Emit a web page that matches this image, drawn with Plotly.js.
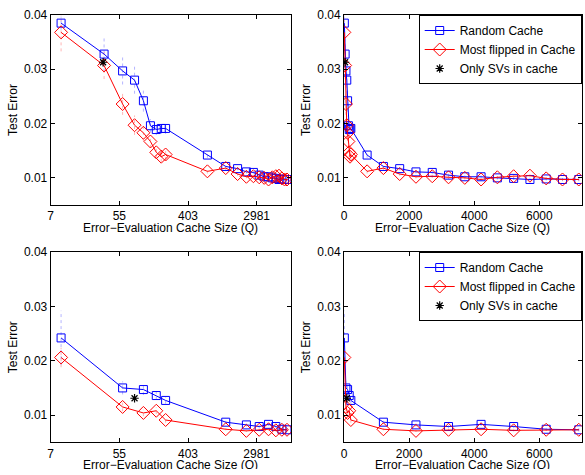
<!DOCTYPE html>
<html>
<head>
<meta charset="utf-8">
<script src="https://cdn.plot.ly/plotly-3.0.1.min.js"></script>
<style>
  html, body { margin: 0; padding: 0; background: #fff; }
  .panel { width: 585px; overflow: hidden; position: relative; }
  #top { height: 235px; }
  #bottom { height: 234px; }
</style>
</head>
<body>
<div id="top" class="panel"></div>
<div id="bottom" class="panel"></div>
<script>
// Cache sizes Q and test errors, first experiment (top row)
const qTop = [10, 35, 60, 85, 110, 135, 160, 185, 210, 710, 1210, 1710, 2210, 2710, 3210, 3710, 4210, 4710, 5210, 5710, 6210, 6710, 7210];
const randomTop = [0.0385, 0.0328, 0.0297, 0.0280, 0.0242, 0.0196, 0.0189, 0.0191, 0.0191, 0.0142, 0.0121, 0.0117, 0.0111, 0.0110, 0.0105, 0.0102, 0.0102, 0.0100, 0.0099, 0.0097, 0.0098, 0.0097, 0.0097];
const flippedTop = [0.0368, 0.0307, 0.0236, 0.0197, 0.0183, 0.0167, 0.0147, 0.0139, 0.0143, 0.0112, 0.0118, 0.0107, 0.0102, 0.0103, 0.0101, 0.0100, 0.0097, 0.0101, 0.0103, 0.0104, 0.0099, 0.0097, 0.0097];
const randomTopErr = [0.0012, 0.0032, 0.0025, 0.0025, 0.0020, 0.0012, 0.0010, 0.0010, 0.0010, 0.0005, 0.0004, 0.0003, 0.0003, 0.0003, 0.0003, 0.0003, 0.0003, 0.0003, 0.0003, 0.0003, 0.0003, 0.0003, 0.0003];
const flippedTopErr = [0.0035, 0.0025, 0.0020, 0.0018, 0.0015, 0.0012, 0.0010, 0.0010, 0.0010, 0.0004, 0.0004, 0.0003, 0.0003, 0.0003, 0.0003, 0.0003, 0.0003, 0.0003, 0.0003, 0.0003, 0.0003, 0.0003, 0.0003];
const svQTop = [34];
const svErrTop = [0.0313];

// Second experiment (bottom row)
const qBottom = [10, 60, 110, 160, 210, 1210, 2210, 3210, 4210, 5210, 6210, 7210];
const randomBottom = [0.0242, 0.0150, 0.0147, 0.0136, 0.0127, 0.0087, 0.0082, 0.0079, 0.0083, 0.0079, 0.0074, 0.0073];
const flippedBottom = [0.0206, 0.0115, 0.0104, 0.0108, 0.0091, 0.0074, 0.0071, 0.0073, 0.0074, 0.0072, 0.0073, 0.0073];
const randomBottomErr = [0.0050, 0.0012, 0.0010, 0.0008, 0.0006, 0.0003, 0.0003, 0.0003, 0.0003, 0.0003, 0.0003, 0.0003];
const flippedBottomErr = [0.0018, 0.0008, 0.0006, 0.0006, 0.0005, 0.0002, 0.0002, 0.0002, 0.0002, 0.0002, 0.0002, 0.0002];
const svQBottom = [85];
const svErrBottom = [0.0131];

// Axis ticks and labels
const logTickVals = [Math.exp(2), Math.exp(4), Math.exp(6), Math.exp(8)];
const logTickText = ['7', '55', '403', '2981'];
const linTickVals = [0, 2000, 4000, 6000];
const yTickVals = [0.01, 0.02, 0.03, 0.04];
const yTickText = ['0.01', '0.02', '0.03', '0.04'];
const seriesNames = ['Random Cache', 'Most flipped in Cache', 'Only SVs in cache'];
const xTitle = 'Error\u2212Evaluation Cache Size (Q)';
const yTitle = 'Test Error';

const FONT = 'Liberation Sans, Arial, Helvetica, sans-serif';
const BLUE = '#0000ff';
const RED = '#ff0000';
const X_LEFT = [50.7 / 585, 291 / 585];
const X_RIGHT = [344 / 585, 581.7 / 585];

// dotted vertical spread segments around each point
function spread(q, y, e) {
  const xs = [], ys = [];
  for (let i = 0; i < q.length; i++) {
    xs.push(q[i], q[i], null);
    ys.push(y[i] - e[i], y[i] + e[i], null);
  }
  return { xs, ys };
}

function seriesTraces(q, blue, red, bErr, rErr, svQ, svY, xa, ya, legend) {
  const bs = spread(q, blue, bErr);
  const rs = spread(q, red, rErr);
  return [
    { x: bs.xs, y: bs.ys, xaxis: xa, yaxis: ya, mode: 'lines', showlegend: false, hoverinfo: 'skip',
      line: { color: 'rgba(120,120,255,0.55)', width: 1, dash: 'dot' } },
    { x: rs.xs, y: rs.ys, xaxis: xa, yaxis: ya, mode: 'lines', showlegend: false, hoverinfo: 'skip',
      line: { color: 'rgba(255,120,120,0.55)', width: 1, dash: 'dot' } },
    { x: q, y: blue, xaxis: xa, yaxis: ya, mode: 'lines+markers', name: seriesNames[0], showlegend: legend,
      line: { color: BLUE, width: 1 },
      marker: { symbol: 'square-open', size: 8, color: BLUE, line: { color: BLUE, width: 1 } } },
    { x: q, y: red, xaxis: xa, yaxis: ya, mode: 'lines+markers', name: seriesNames[1], showlegend: legend,
      line: { color: RED, width: 1 },
      marker: { symbol: 'diamond-open', size: 10, color: RED, line: { color: RED, width: 1 } } },
    { x: svQ, y: svY, xaxis: xa, yaxis: ya, mode: 'markers', name: seriesNames[2], showlegend: legend,
      marker: { symbol: 'asterisk-open', size: 7, color: '#000', line: { color: '#000', width: 1.2 } } }
  ];
}

function axisBase() {
  return {
    showline: true, mirror: 'ticks', linecolor: '#000', linewidth: 1,
    ticks: 'inside', ticklen: 4, tickcolor: '#000', tickwidth: 1,
    showgrid: false, zeroline: false,
    tickfont: { family: FONT, size: 12, color: '#000' }
  };
}

function xTitleAnnotation(domain, yPx, h) {
  return {
    text: xTitle, xref: 'paper', yref: 'paper',
    x: (domain[0] + domain[1]) / 2, y: 1 - yPx / h,
    xanchor: 'center', yanchor: 'middle', showarrow: false,
    font: { family: FONT, size: 12, color: '#000' }
  };
}

function makeLayout(h, yDom, titlePx) {
  const xa = Object.assign(axisBase(), {
    type: 'log', domain: X_LEFT, anchor: 'y',
    range: [Math.log10(Math.exp(2)), Math.log10(Math.exp(9))],
    tickmode: 'array', tickvals: logTickVals, ticktext: logTickText,
    ticklabelstandoff: 0
  });
  const xa2 = Object.assign(axisBase(), {
    domain: X_RIGHT, anchor: 'y2', range: [0, 7300],
    tickmode: 'array', tickvals: linTickVals, ticktext: linTickVals.map(String),
    ticklabelstandoff: 0
  });
  const yBase = {
    range: [0.005, 0.04], domain: yDom,
    tickmode: 'array', tickvals: yTickVals, ticktext: yTickText,
    title: { text: yTitle, font: { family: FONT, size: 12, color: '#000' } }
  };
  const ya = Object.assign(axisBase(), yBase, { anchor: 'x' });
  const ya2 = Object.assign(axisBase(), yBase, { anchor: 'x2' });
  return {
    width: 585, height: h,
    margin: { l: 0, r: 0, t: 0, b: 0 },
    paper_bgcolor: '#fff', plot_bgcolor: '#fff',
    font: { family: FONT, size: 12, color: '#000' },
    xaxis: xa, yaxis: ya, xaxis2: xa2, yaxis2: ya2,
    annotations: [xTitleAnnotation(X_LEFT, titlePx, h), xTitleAnnotation(X_RIGHT, titlePx, h)],
    showlegend: true,
    legend: {
      x: X_RIGHT[1], xanchor: 'right', y: yDom[1], yanchor: 'top',
      bgcolor: '#fff', bordercolor: '#000', borderwidth: 1,
      font: { family: FONT, size: 12, color: '#000' },
      tracegroupgap: 0, itemwidth: 30
    }
  };
}

const cfg = { staticPlot: true, displayModeBar: false };

const topTraces = [].concat(
  seriesTraces(qTop, randomTop, flippedTop, randomTopErr, flippedTopErr, svQTop, svErrTop, 'x', 'y', false),
  seriesTraces(qTop, randomTop, flippedTop, randomTopErr, flippedTopErr, svQTop, svErrTop, 'x2', 'y2', true)
);
Plotly.newPlot('top', topTraces, makeLayout(235, [1 - 205 / 235, 1 - 15 / 235], 227.5), cfg);

const bottomTraces = [].concat(
  seriesTraces(qBottom, randomBottom, flippedBottom, randomBottomErr, flippedBottomErr, svQBottom, svErrBottom, 'x', 'y', false),
  seriesTraces(qBottom, randomBottom, flippedBottom, randomBottomErr, flippedBottomErr, svQBottom, svErrBottom, 'x2', 'y2', true)
);
Plotly.newPlot('bottom', bottomTraces, makeLayout(240, [1 - 207.3 / 240, 1 - 17 / 240], 229.8), cfg);
</script>
</body>
</html>
